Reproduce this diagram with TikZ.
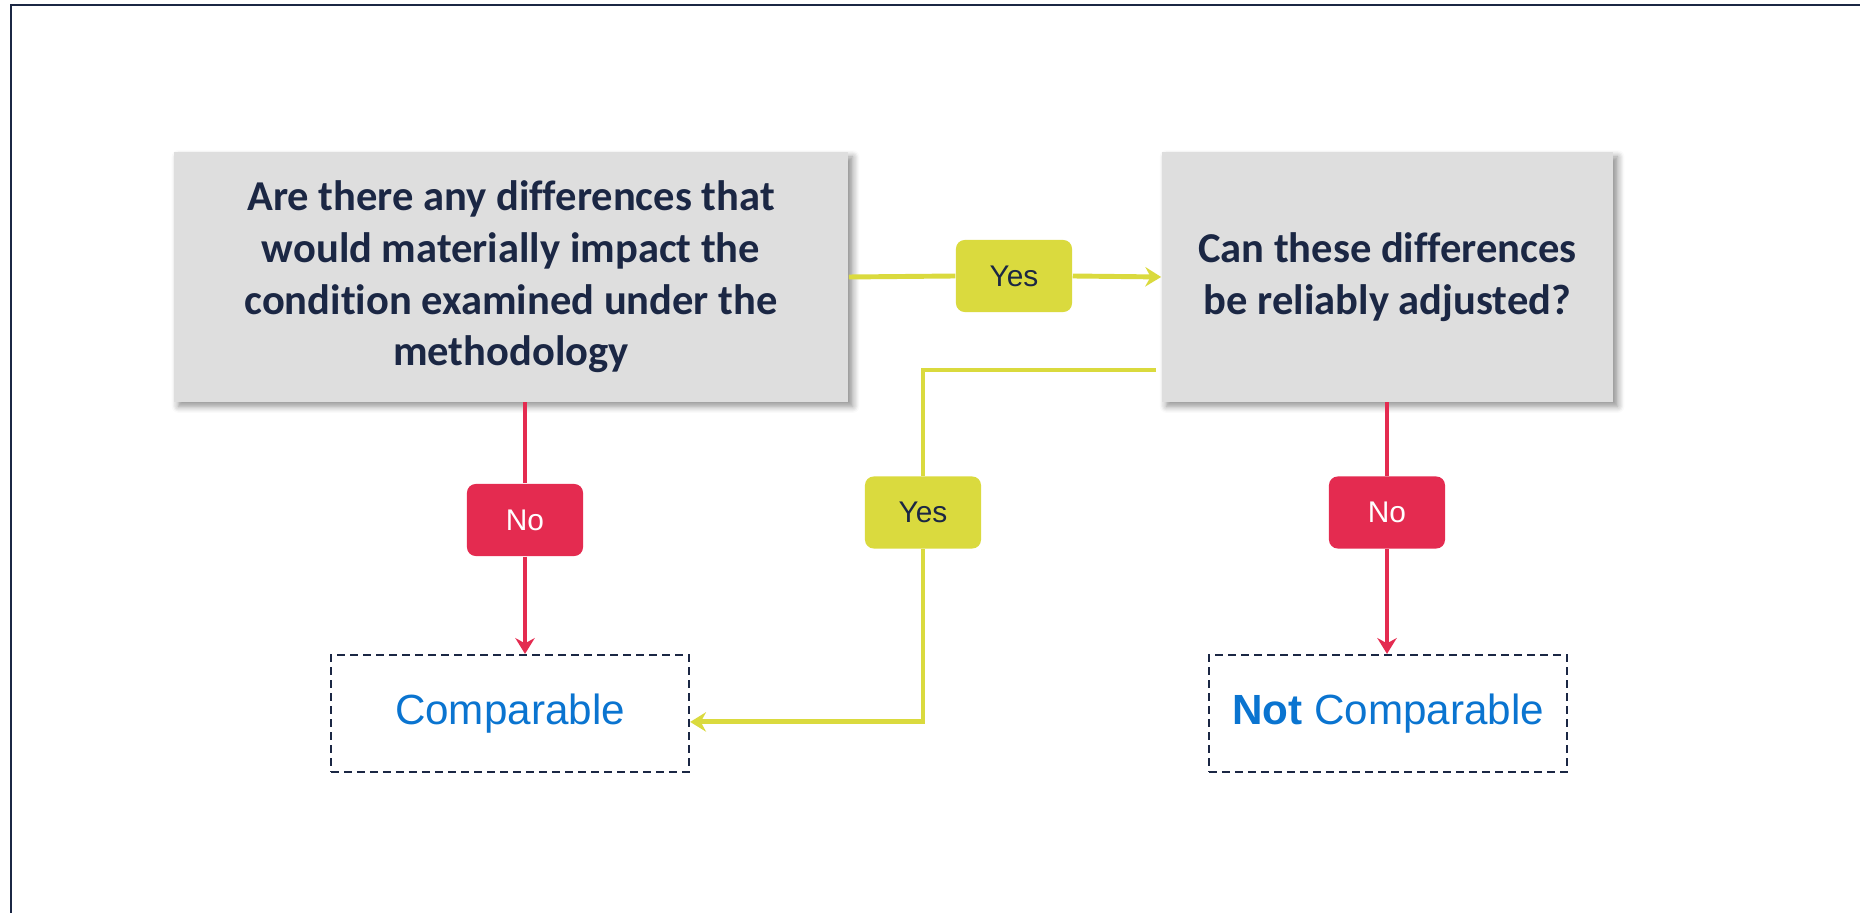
\documentclass[tikz,border=0pt]{standalone}
\usepackage{fontspec}
\setmainfont{Carlito}[Ligatures=NoCommon]
\newfontfamily\arialfont{Liberation Sans}
\usetikzlibrary{arrows.meta,positioning,shadows.blur}

\definecolor{navy}{HTML}{1B2744}
\definecolor{boxgray}{HTML}{DEDEDE}
\definecolor{yesgreen}{HTML}{DADA3E}
\definecolor{nored}{HTML}{E42B50}
\definecolor{outblue}{HTML}{0A74D0}

\begin{document}
\begin{tikzpicture}[x=0.01cm, y=-0.01cm,
	>={Stealth[length=4.5pt, width=5.5pt, inset=1.5pt]},
	question/.style={fill=boxgray, text=navy, font=\bfseries\fontsize{12.1}{14.7}\selectfont,
		align=center, minimum height=2.49cm, inner sep=0pt,
		blur shadow={shadow xshift=1.3pt, shadow yshift=-1.3pt, shadow blur steps=6, shadow opacity=45}},
	yesbox/.style={fill=yesgreen, text=navy, rounded corners=2.5pt, minimum width=1.16cm,
		minimum height=0.72cm, font=\arialfont\fontsize{8.5}{10}\selectfont},
	nobox/.style={fill=nored, text=white, rounded corners=2.5pt, minimum width=1.16cm,
		minimum height=0.72cm, font=\arialfont\fontsize{8.5}{10}\selectfont},
	outcome/.style={draw=navy, line width=0.6pt, dash pattern=on 2.2pt off 1.5pt,
		text=outblue, minimum width=3.58cm, minimum height=1.17cm,
		font=\arialfont\fontsize{12}{14}\selectfont},
	yesline/.style={draw=yesgreen, line width=1.4pt},
	noline/.style={draw=nored, line width=1.4pt}]
	\useasboundingbox (0,0) rectangle (1860,913);
	% frame
	\draw[navy, line width=0.8pt] (11,913) -- (11,5) -- (1860,5);

	% questions
	\node[question, minimum width=6.74cm] (q1) at (511,277)
		{Are there any differences that\\would materially impact the\\condition examined under the\\methodology};
	\node[question, minimum width=4.51cm] (q2) at (1387.5,277)
		{Can these differences\\be reliably adjusted?};

	% outcomes
	\node[outcome] (comp) at (510,713.5) {\raisebox{-1pt}{Comparable}};
	\node[outcome] (notcomp) at (1388,713.5) {\raisebox{-1pt}{\textbf{Not} Comparable}};

	% answer labels
	\node[yesbox] (yes1) at (1014,276) {Yes};
	\node[yesbox] (yes2) at (923,512.5) {Yes};
	\node[nobox] (no1) at (525,520) {No};
	\node[nobox] (no2) at (1387,512.5) {No};
	\coordinate (loopstart) at (1156,370);

	% connectors
	\draw[yesline] (q1.east) -- (yes1.west);
	\draw[yesline, ->] (yes1.east) -- (q2.west);
	\draw[yesline] (loopstart) -| (yes2.north);
	\draw[yesline, ->] (yes2.south) |- ([yshift=-2.4pt]comp.east);
	\draw[noline] (q1.south -| no1) -- (no1.north);
	\draw[noline, ->] (no1.south) -- (no1 |- comp.north);
	\draw[noline] (q2.south -| no2) -- (no2.north);
	\draw[noline, ->] (no2.south) -- (no2 |- notcomp.north);
\end{tikzpicture}
\end{document}
